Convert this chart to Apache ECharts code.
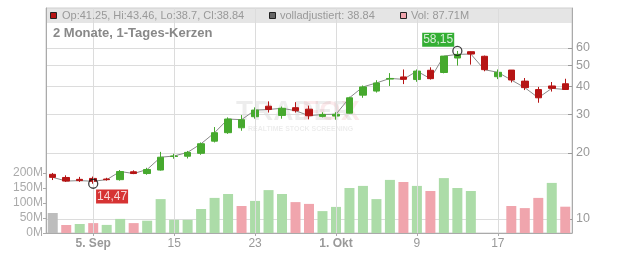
<!DOCTYPE html>
<html><head><meta charset="utf-8">
<script src="https://cdn.jsdelivr.net/npm/echarts@6/dist/echarts.min.js"></script>
<style>html,body{margin:0;padding:0;background:#fff}#c{width:632px;height:253px}</style>
</head><body><div id="c"></div>
<script>
const categories = ['2025-09-02','2025-09-03','2025-09-04','2025-09-05','2025-09-08','2025-09-09','2025-09-10','2025-09-11','2025-09-12',
  '2025-09-15','2025-09-16','2025-09-17','2025-09-18','2025-09-19','2025-09-22','2025-09-23','2025-09-24','2025-09-25','2025-09-26',
  '2025-09-29','2025-09-30','2025-10-01','2025-10-02','2025-10-03','2025-10-06','2025-10-07','2025-10-08','2025-10-09','2025-10-10',
  '2025-10-13','2025-10-14','2025-10-15','2025-10-16','2025-10-17','2025-10-20','2025-10-21','2025-10-22','2025-10-23','2025-10-24'];
const opens  = [15.97,15.45,15.15,15.3,15.2,15.1,16.4,16.1,16.7,19.25,19.3,19.9,22.6,24.7,26.0,29.2,32.6,29.6,32.1,31.6,29.3,29.4,30.3,36.6,38.2,43.3,44.3,43.1,47.5,46.4,54.0,57.7,55.0,44.4,47.6,42.4,38.8,40.3,41.25];
const closes = [15.47,14.88,14.95,14.85,15.1,16.45,16.1,16.8,19.1,19.35,20.1,22.0,24.7,28.5,28.3,31.3,31.5,31.9,31.1,29.5,29.9,29.95,35.6,39.9,41.6,43.6,43.2,47.1,43.5,55.1,56.1,56.3,47.8,46.5,42.9,39.6,35.6,39.3,38.84];
const lows   = [15.04,14.75,14.75,14.47,14.95,14.95,16.0,15.9,16.6,18.8,18.85,19.6,22.3,24.4,25.2,28.6,30.5,28.6,30.5,28.4,29.0,28.3,30.2,35.6,37.6,40.3,41.1,42.1,43.1,46.0,49.9,50.4,47.0,43.3,41.8,38.6,33.8,38.0,38.7];
const highs  = [16.2,15.8,15.55,15.6,15.4,16.7,16.65,17.1,20.2,19.8,20.4,22.3,26.2,29.0,29.7,32.2,34.3,32.5,34.0,32.8,30.6,30.6,36.0,40.5,42.8,46.1,47.9,47.9,49.0,55.1,58.15,57.9,55.4,47.9,47.6,43.8,39.9,42.0,43.46];
const volumes = [66.7,26.7,30,33,27,47,33,41,113,44,44,80,117,130,90,107,143,130,103,97,73,87,150,157,113,177,170,157,140,183,150,140,null,null,90,83,117,167,87.71];
const priceTicks = [10,20,30,40,50,60];
const volumeTicks = [0,50,100,150,200];
const dateTickIndex = [3,9,15,21,27,33];
const dateTickLabels = ['5. Sep','15','23','1. Okt','9','17'];
const monthStartLabels = ['5. Sep','1. Okt'];
const highPoint = {index:30, value:58.15, text:'58,15'};
const lowPoint = {index:3, value:14.47, text:'14,47'};
const legendTexts = ['Op:41.25, Hi:43.46, Lo:38.7, Cl:38.84','volladjustiert: 38.84','Vol: 87.71M'];
const titleText = '2 Monate, 1-Tages-Kerzen';

const UP = '#46a92e', DOWN = '#b61414';
const VUP = '#acdca8', VDOWN = '#f0a5ad', VFIRST = '#bdbdbd';
const FONT = 'Liberation Sans, Arial, sans-serif';

const candleData = categories.map((c,i)=>[opens[i],closes[i],lows[i],highs[i]]);
const volData = volumes.map((v,i)=>({
  value: v,
  itemStyle: {color: i===0 ? VFIRST : (closes[i] >= closes[i-1] ? VUP : VDOWN)}
}));
const isTick = (idx)=> dateTickIndex.indexOf(idx) >= 0;

const chart = echarts.init(document.getElementById('c'), null, {renderer:'canvas'});
chart.setOption({
  animation:false,
  textStyle:{fontFamily:FONT},
  grid:{left:46,right:60,top:8,bottom:20,show:true,borderColor:'#cfcfcf',borderWidth:1,backgroundColor:'transparent'},
  xAxis:{
    type:'category', data:categories, boundaryGap:true,
    axisLine:{lineStyle:{color:'#aaa'}},
    axisTick:{show:true,alignWithLabel:true,interval:(i)=>isTick(i),length:3,lineStyle:{color:'#aaa'}},
    axisLabel:{interval:(i)=>isTick(i),margin:5,fontSize:12,color:'#999',fontFamily:FONT,
      formatter:(v,i)=>{const k=dateTickIndex.indexOf(i); if(k<0) return ''; const t=dateTickLabels[k]; return monthStartLabels.indexOf(t)>=0?('{b|'+t+'}'):t;},
      rich:{b:{fontWeight:'bold',fontSize:12,color:'#999',fontFamily:FONT}}},
    splitLine:{show:false}
  },
  yAxis:[
    {type:'value', position:'left', min:0, max:750,
     axisLine:{show:true,lineStyle:{color:'#aaa'}},
     axisTick:{show:true,length:3,customValues:volumeTicks,lineStyle:{color:'#aaa'}},
     axisLabel:{customValues:volumeTicks,formatter:(v)=>v+'M',fontSize:12,color:'#aaa',margin:3,fontFamily:FONT},
     splitLine:{show:false}},
    {type:'log', position:'right', min:8.636, max:91.2, logBase:10,
     axisLine:{show:true,lineStyle:{color:'#aaa'}},
     axisTick:{show:true,inside:true,length:4,customValues:priceTicks,lineStyle:{color:'#999'}},
     axisLabel:{customValues:priceTicks,fontSize:12.5,color:'#999',margin:4,fontFamily:FONT},
     splitLine:{show:true,lineStyle:{color:'#dcdcdc',width:1}},
     minorSplitLine:{show:false}}
  ],
  graphic:[
    {type:'rect',z:-10,shape:{x:46,y:8,width:526,height:15},style:{fill:'#e5e5e5'}},
    {type:'rect',z:10,shape:{x:50.5,y:12.5,width:6,height:6},style:{fill:DOWN,stroke:'#222',lineWidth:1}},
    {type:'text',z:10,x:62,y:15.5,style:{text:legendTexts[0],fill:'#999',font:'11px '+FONT,verticalAlign:'middle'}},
    {type:'rect',z:10,shape:{x:269.5,y:12.5,width:6,height:6},style:{fill:'#666',stroke:'#222',lineWidth:1}},
    {type:'text',z:10,x:280,y:15.5,style:{text:legendTexts[1],fill:'#999',font:'11px '+FONT,verticalAlign:'middle'}},
    {type:'rect',z:10,shape:{x:400.5,y:12.5,width:6,height:6},style:{fill:VDOWN,stroke:'#222',lineWidth:1}},
    {type:'text',z:10,x:411,y:15.5,style:{text:legendTexts[2],fill:'#999',font:'11px '+FONT,verticalAlign:'middle'}},
    {type:'text',z:10,x:53,y:33,style:{text:titleText,fill:'#888',font:'bold 13px '+FONT,verticalAlign:'middle'}},
    {type:'text',z:-5,x:236,y:112,style:{text:'TRADER',fill:'rgba(0,0,0,0.07)',font:'bold 28px '+FONT,verticalAlign:'middle'}},
    {type:'text',z:-5,x:302,y:112,style:{text:'FOX',fill:'rgba(230,80,100,0.12)',font:'bold 28px '+FONT,verticalAlign:'middle'}},
    {type:'text',z:-5,x:248,y:129,style:{text:'REALTIME STOCK SCREENING',fill:'rgba(0,0,0,0.08)',font:'bold 7px '+FONT,verticalAlign:'middle'}}
  ],
  series:[
    {type:'line', xAxisIndex:0, yAxisIndex:1, data:[], z:0, silent:true,
     markLine:{silent:true,symbol:['none','none'],label:{show:false},
       lineStyle:{color:'#dcdcdc',width:1,type:'solid'},
       data:dateTickIndex.map(i=>({xAxis:categories[i]}))}},
    {type:'bar', yAxisIndex:0, data:volData, barWidth:10, z:2},
    {type:'line', yAxisIndex:1, data:closes, symbol:'none', z:3, lineStyle:{color:'#8a8a8a',width:1}},
    {type:'candlestick', yAxisIndex:1, data:candleData, barWidth:7, z:4,
     itemStyle:{color:UP,color0:DOWN,borderColor:UP,borderColor0:DOWN,borderWidth:1}},
    {type:'scatter', yAxisIndex:1, z:6, symbol:'circle', symbolSize:9,
     itemStyle:{color:'rgba(0,0,0,0)',borderColor:'#111',borderWidth:1.3},
     data:[
       {value:[highPoint.index, highPoint.value], label:{show:true, formatter:highPoint.text, position:[2,1], align:'right', verticalAlign:'bottom',
         backgroundColor:'#009a00', color:'#fff', fontSize:12, padding:[1,1], fontFamily:FONT}},
       {value:[lowPoint.index, lowPoint.value], label:{show:true, formatter:lowPoint.text, position:[8,11], align:'left', verticalAlign:'top',
         backgroundColor:'#cc0000', color:'#fff', fontSize:12, padding:[1,1], fontFamily:FONT}}
     ]}
  ]
});
</script></body></html>
